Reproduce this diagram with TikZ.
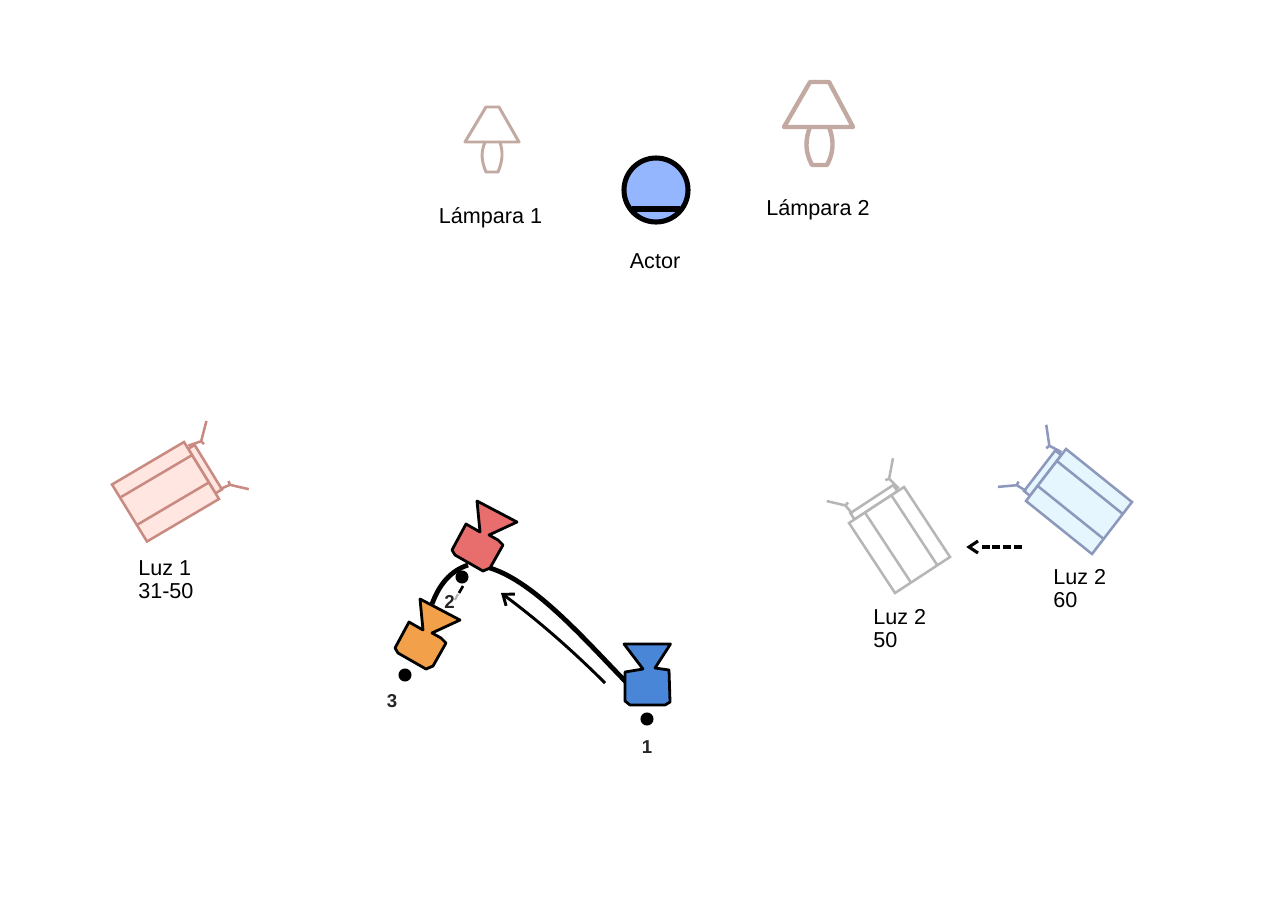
\documentclass[tikz,border=0pt]{standalone}
\usepackage{fontspec}
\setmainfont{Liberation Sans}
\usetikzlibrary{arrows.meta}
\definecolor{lampc}{HTML}{C2A9A2}
\definecolor{redS}{HTML}{C98A82}
\definecolor{redF}{HTML}{FFE6E0}
\definecolor{bluS}{HTML}{8C98BC}
\definecolor{bluF}{HTML}{E6F6FE}
\definecolor{gryS}{HTML}{B6B6B6}
\definecolor{actorF}{HTML}{94B6FF}
\definecolor{cam1}{HTML}{4A86D8}
\definecolor{cam2}{HTML}{E86E6E}
\definecolor{cam3}{HTML}{F2A14A}
\tikzset{
  lab/.style={font=\fontsize{16.2pt}{17pt}\selectfont,text=black,inner sep=0pt},
  leftlab/.style={lab,align=left,anchor=north west},
  numlab/.style={font=\fontsize{14pt}{15pt}\selectfont\bfseries,text=black!85,inner sep=0pt},
  campoly/.style={draw=black,line width=2.1pt,line join=round},
  lampline/.style={draw=lampc,line join=round},
  lightline/.style={line width=1.9pt,line join=miter},
  dotnode/.style={circle,fill=black,inner sep=0pt,minimum size=9.8pt},
}
% #1 #2 corner A; #3 #4 vector A->B; #5 #6 vector A->D; #7 stroke; #8 fill
\newcommand{\lightbox}[8]{%
  \begin{scope}[shift={(#1,#2)},x={(#3*0.75pt,-#4*0.75pt)},y={(#5*0.75pt,-#6*0.75pt)},lightline,draw=#7]
    \draw[fill=#8] (0.1,-0.09) -- (0.88,-0.09) -- (0.88,0) -- (0.1,0) -- cycle;
    \draw[fill=#8] (0,0) -- (1,0) -- (1,1) -- (0,1) -- cycle;
    \draw (0.29,0) -- (0.29,1);
    \draw (0.77,0) -- (0.77,1);
    \draw (0.12,-0.07) -- (0.1,-0.2) -- (-0.1,-0.365);
    \draw (0.1,-0.2) -- (0.16,-0.21);
    \draw (0.92,-0.02) -- (0.88,-0.18) -- (1.1,-0.36);
    \draw (0.88,-0.18) -- (0.82,-0.19);
  \end{scope}}
\newcommand{\angledcam}[3]{%
  \begin{scope}[shift={(#1,#2)}]
    \draw[campoly,fill=#3] (477,501) -- (517,522) -- (489,535) -- (498,540) -- (503,545)
      -- (490,568) -- (483,571) -- (455,555) -- (452,550) -- (466,524) -- (480,532) -- cycle;
  \end{scope}}
\begin{document}
\begin{tikzpicture}[x=0.75pt,y=-0.75pt]
\useasboundingbox (0,0) rectangle (1287,921);
\fill[white] (0,0) rectangle (1287,921);

% lamps
\draw[lampline,line width=2.2pt] (486,107) -- (499,107) -- (519,142) -- (465,142) -- cycle;
\draw[lampline,line width=2.2pt] (485,142) .. controls (481,152) and (481,160) .. (486,172) -- (498,172) .. controls (503,160) and (503,152) .. (500,142);
\draw[lampline,line width=3.3pt] (810,82) -- (829,82) -- (853,127) -- (784,127) -- cycle;
\draw[lampline,line width=3.3pt] (810,127) .. controls (805,140) and (805,152) .. (812,165) -- (827,165) .. controls (834,152) and (834,140) .. (829,127);
\node[lab] (lamp1) at (490.5,218) {Lámpara 1};
\node[lab] (lamp2) at (818,209.5) {Lámpara 2};

% actor
\node[circle,draw=black,fill=actorF,line width=3.8pt,minimum size=48pt,inner sep=0pt] (actor) at (656,190) {};
\draw[black,line width=3.8pt] (632,209) -- (680,209);
\node[lab] (actorlab) at (655,261) {Actor};

% lights
\lightbox{219}{499}{-35}{-57}{-72}{42.5}{redS}{redF}
\lightbox{849}{523}{55}{-36}{46}{70}{gryS}{white}
\lightbox{1026}{501}{40}{-52}{66}{53}{bluS}{bluF}
\node[leftlab] (luz1) at (138,560.5) {Luz 1\\[0.2pt]31-50};
\node[leftlab] (luz2a) at (873,609.5) {Luz 2\\[0.2pt]50};
\node[leftlab] (luz2b) at (1053,569.5) {Luz 2\\[0.2pt]60};

% movement of light
\coordinate (lightfrom) at (1021.5,547);
\coordinate (lightend) at (980,547);
\coordinate (lightto) at (969,547);
\draw[black,line width=2.5pt,dash pattern=on 6pt off 2pt] (lightfrom) -- (lightend);
\draw[black,line width=2.3pt,line join=miter] (lightto) ++(9,-6) -- (lightto) -- ++(9,6);

% dots and numbers
\node[dotnode] (dot1) at (647,719) {};
\node[dotnode] (dot2) at (462,577) {};
\node[dotnode] (dot3) at (405,675) {};
\node[numlab] (n1) at (647,747) {1};
\node[numlab] (n2) at (449.5,602) {2};
\node[numlab] (n3) at (392,701) {3};

% camera path
\coordinate (pathA) at (626,682);
\coordinate (pathB) at (490,568);
\coordinate (pathC) at (468,565);
\coordinate (pathD) at (432,604);
\draw[black,line width=3.6pt] (pathA) .. controls (585,640) and (535,582) .. (pathB);
\draw[black,line width=3.6pt] (pathC) .. controls (450,571) and (439,585) .. (pathD);
\coordinate (arrowfrom) at (605,683);
\coordinate (arrowto) at (501,593);
\draw[black,line width=2.2pt,-{Straight Barb[length=7pt,width=11pt,line width=2.2pt]}] (arrowfrom) .. controls (570,648) and (535,618) .. (arrowto);
\draw[gray!60,line width=1.6pt] (458,594) -- (455,600);
\coordinate (dashA) at (463,586);
\coordinate (dashB) at (459,593);
\draw[black,line width=2pt] (dashA) -- (dashB);

% cameras
\draw[campoly,fill=cam1] (624,644) -- (670.5,644) -- (655,668) -- (669,670) -- (670,702) -- (665,705)
  -- (630,705) -- (625,701) -- (625,672) -- (643,669) -- cycle;
\angledcam{0}{0}{cam2}
\angledcam{-57}{98}{cam3}
\end{tikzpicture}
\end{document}
